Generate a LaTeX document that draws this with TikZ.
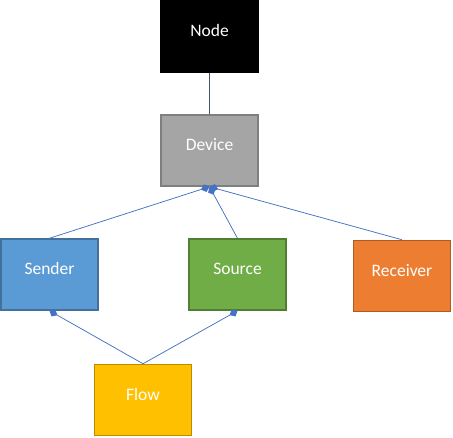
\documentclass[tikz,border=0pt]{standalone}
\usepackage{fontspec}
\setmainfont{Carlito}
\usepackage{tikz}
\usetikzlibrary{arrows.meta}
\usepackage{xcolor}

\definecolor{devgray}{HTML}{A5A5A5}
\definecolor{devline}{HTML}{7F7F7F}
\definecolor{sendfill}{HTML}{5B9BD5}
\definecolor{sendline}{HTML}{41719C}
\definecolor{srcfill}{HTML}{70AD47}
\definecolor{srcline}{HTML}{507E32}
\definecolor{recfill}{HTML}{ED7D31}
\definecolor{recline}{HTML}{AE5A21}
\definecolor{flowfill}{HTML}{FFC000}
\definecolor{flowline}{HTML}{BC8C00}
\definecolor{linkblue}{HTML}{4472C4}
\definecolor{darklink}{HTML}{44546A}

\begin{document}
\begin{tikzpicture}[x=1pt, y=-1pt,
  every node/.style={rectangle, minimum width=97pt, minimum height=71pt, inner sep=0pt,
    text height=12pt, text depth=12pt,
    line width=1.5pt, text=white, font=\fontsize{17.5}{20}\selectfont},
  link/.style={linkblue, line width=0.75pt, -{Diamond[length=9pt,width=8pt]}}]
  \useasboundingbox (0,0) rectangle (453,437);

  \node[fill=black, minimum width=99pt, minimum height=73pt, line width=0pt] (node) at (209.5,36.5) {Node};
  \node[fill=devgray, draw=devline] (device) at (209.5,150.5) {Device};

  \node[fill=sendfill, draw=sendline] (sender) at (49.5,274.5) {Sender};
  \node[fill=srcfill, draw=srcline] (source) at (237.5,274.5) {Source};
  \node[fill=recfill, draw=recline] (receiver) at (402,276) {Receiver};

  \node[fill=flowfill, draw=flowline] (flow) at (143,400) {Flow};

  \draw[darklink, line width=0.75pt] (node.south) -- (device.north);
  \draw[link] (sender.north) -- (device.south);
  \draw[link] (source.north) -- (device.south);
  \draw[link] (receiver.north) -- (device.south);
  \draw[link] (flow.north) -- (sender.south);
  \draw[link] (flow.north) -- (source.south);
\end{tikzpicture}
\end{document}
